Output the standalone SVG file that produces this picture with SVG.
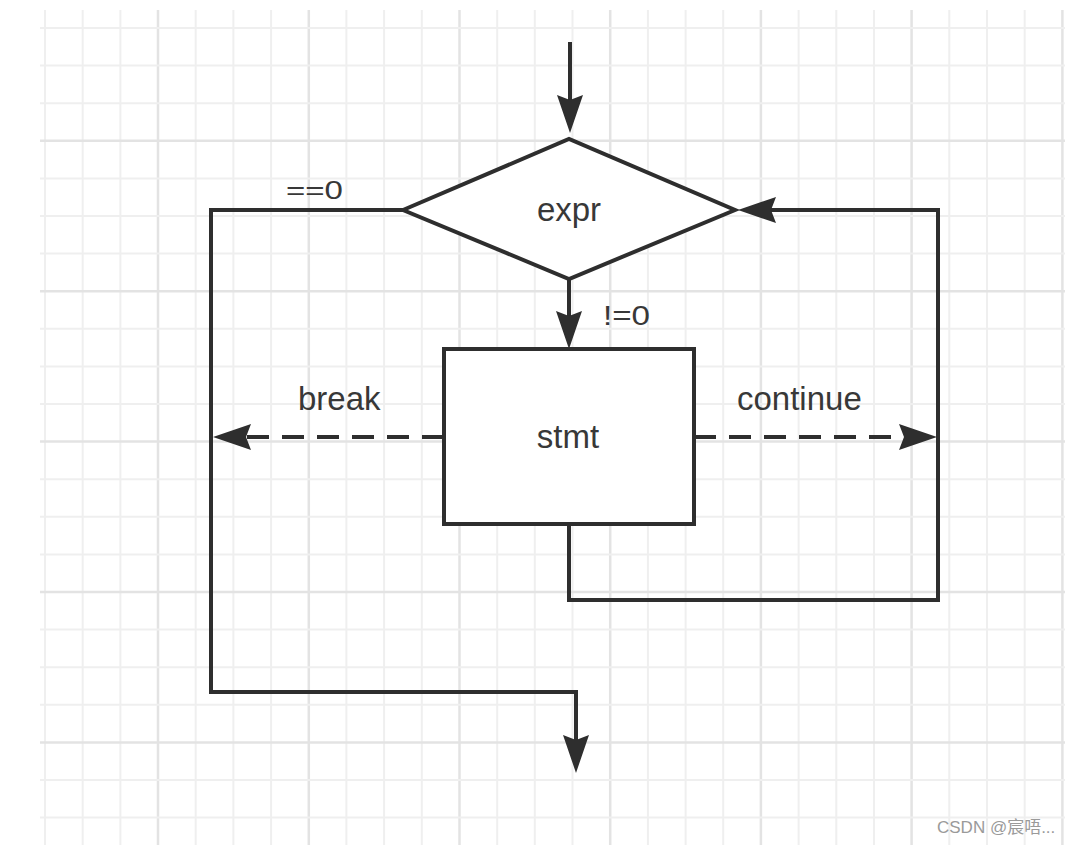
<svg xmlns="http://www.w3.org/2000/svg" width="1080" height="845" viewBox="0 0 1080 845">
<style>
.minor{stroke:#efefef;stroke-width:2;fill:none}
.major{stroke:#e3e3e3;stroke-width:2.5;fill:none}
.shape{fill:#ffffff;stroke:#2e2e2e;stroke-width:4;stroke-linejoin:miter}
.wire{fill:none;stroke:#2e2e2e;stroke-width:4;stroke-linejoin:miter}
.dash{stroke-dasharray:22 13}
.lbl{font-family:"Liberation Sans",Arial,sans-serif;fill:#383838}
.wm{font-family:"Liberation Sans","Noto Sans CJK SC",sans-serif;font-size:17px;fill:#9a9a9a}
</style>
<defs>
<marker id="arr" viewBox="0 0 38 26" refX="5" refY="13" markerWidth="38" markerHeight="26" markerUnits="userSpaceOnUse" orient="auto">
<path d="M0,0 L38,13 L0,26 L5,13 Z" fill="#2e2e2e"/>
</marker>
</defs>
<rect x="0" y="0" width="1080" height="845" fill="#ffffff"/>
<g id="grid">
<path class="minor" d="M45,10V845M82.7,10V845M120.4,10V845M195.7,10V845M233.4,10V845M271.1,10V845M346.4,10V845M384.1,10V845M421.8,10V845M497.2,10V845M534.8,10V845M572.5,10V845M647.9,10V845M685.6,10V845M723.2,10V845M798.6,10V845M836.3,10V845M874,10V845M949.3,10V845M987,10V845M1024.7,10V845"/>
<path class="major" d="M158,10V845M308.8,10V845M459.5,10V845M610.2,10V845M760.9,10V845M911.6,10V845M1062.4,10V845"/>
<path class="minor" d="M40,28H1065M40,65.6H1065M40,103.2H1065M40,178.4H1065M40,216H1065M40,253.6H1065M40,328.8H1065M40,366.4H1065M40,404H1065M40,479.2H1065M40,516.8H1065M40,554.4H1065M40,629.6H1065M40,667.2H1065M40,704.8H1065M40,780H1065M40,817.6H1065"/>
<path class="major" d="M40,140.8H1065M40,291.2H1065M40,441.6H1065M40,592H1065M40,742.4H1065"/>
</g>
<g id="connectors">
<path class="wire" d="M570,42V100" marker-end="url(#arr)"/>
<path class="wire" d="M403,210H211V692H576V740" marker-end="url(#arr)"/>
<path class="wire" d="M569,279V316" marker-end="url(#arr)"/>
<path class="wire dash" d="M444,437H246" marker-end="url(#arr)"/>
<path class="wire dash" d="M694,437H904" marker-end="url(#arr)"/>
<path class="wire" d="M569,524V600H938V210H771" marker-end="url(#arr)"/>
<text class="lbl" x="286" y="199" font-size="26" textLength="57" lengthAdjust="spacingAndGlyphs">==0</text>
<text class="lbl" x="603" y="325" font-size="28" textLength="47" lengthAdjust="spacingAndGlyphs">!=0</text>
<text class="lbl" x="298" y="410" font-size="33">break</text>
<text class="lbl" x="737" y="410" font-size="33">continue</text>
</g>
<g id="node-expr">
<polygon class="shape" points="403,210 569,139 735,210 569,279"/>
<text class="lbl" x="569" y="221" font-size="33" text-anchor="middle">expr</text>
</g>
<g id="node-stmt">
<rect class="shape" x="444" y="349" width="250" height="175"/>
<text class="lbl" x="568" y="448" font-size="33" text-anchor="middle">stmt</text>
</g>
<text class="wm" x="937" y="833">CSDN @宸唔...</text>
</svg>
